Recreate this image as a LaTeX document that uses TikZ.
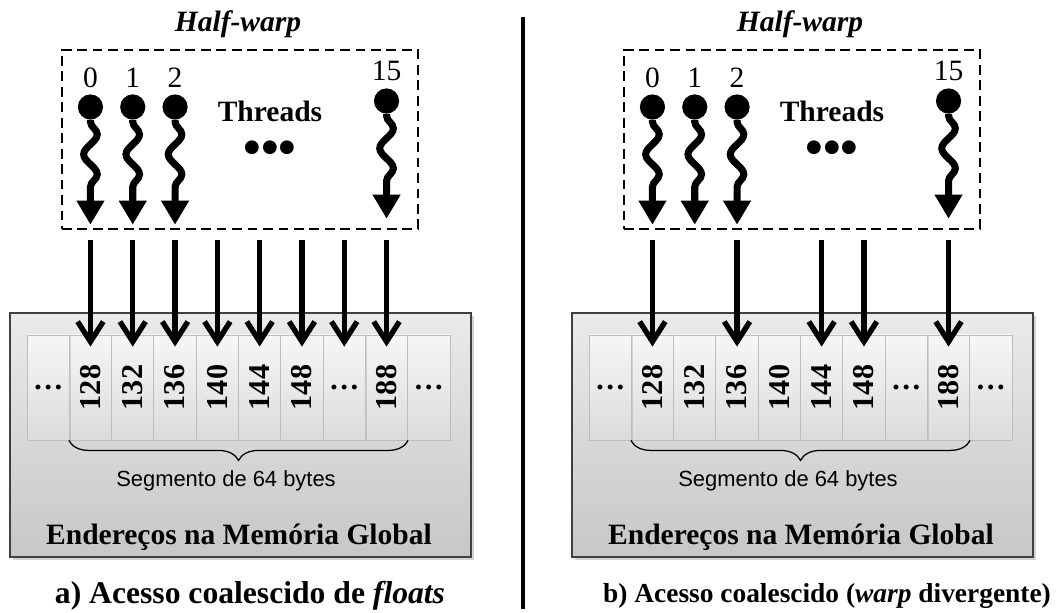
\documentclass[tikz,border=0pt]{standalone}
\usepackage{fontspec}
\setmainfont{Liberation Serif}
\setsansfont{Liberation Sans}
\usepackage{graphicx}
\usetikzlibrary{positioning,arrows.meta,calc,shadows,
                decorations.pathmorphing,decorations.pathreplacing}
\definecolor{boxtop}{gray}{0.92}
\definecolor{boxbot}{gray}{0.78}
\definecolor{celltop}{gray}{0.965}
\definecolor{cellbot}{gray}{0.86}
\definecolor{celledge}{gray}{0.74}
\tikzset{
  big/.style={font=\fontsize{21}{24}\selectfont},
  sans/.style={font=\sffamily\fontsize{15.6}{18}\selectfont},
  memory/.style={rectangle,draw=black!75,line width=0.8pt,
                 top color=boxtop,bottom color=boxbot,
                 minimum width=11.525cm,minimum height=6.1cm,
                 drop shadow={opacity=0.35,shadow xshift=2pt,shadow yshift=-2pt}},
  cell/.style={rectangle,draw=celledge,line width=0.6pt,
               top color=celltop,bottom color=cellbot,
               minimum width=1.0575cm,minimum height=2.625cm,inner sep=0pt,
               font=\fontsize{21.5}{24}\selectfont\bfseries,
               drop shadow={opacity=0.25,shadow xshift=1pt,shadow yshift=-1pt}},
  halfwarp/.style={rectangle,draw,dash pattern=on 7pt off 4pt,line width=1.8pt,
                   minimum width=8.9cm,minimum height=4.475cm},
  ball/.style={circle,fill=black,minimum size=6.3mm,inner sep=0pt},
  thread/.style={line width=5pt,decorate,
                 decoration={snake,amplitude=1.7mm,segment length=10mm,
                             pre length=0.5mm,post length=6.5mm},
                 -{Triangle[length=6mm,width=6.6mm]}},
  access/.style={line width=3.8pt,-{Straight Barb[length=5mm,width=6.4mm]}},
  segbrace/.style={decorate,decoration={brace,mirror,amplitude=5mm},line width=0.9pt},
}

\begin{document}
\begin{tikzpicture}
\useasboundingbox (0,0) rectangle (26.575,15.325);
% a) acesso coalescido
\begin{scope}
\node[memory] (amem) at (6.0125,4.45) {};
\foreach \i/\v in {2/128,3/132,4/136,5/140,6/144,7/148,9/188}
  \node[cell] (a\i) at ({0.675+(\i-0.5)*1.0575},5.6375) {\rotatebox{90}{\v}};
\foreach \i in {1,8,10}
  \node[cell] (a\i) at ({0.675+(\i-0.5)*1.0575},5.6375) {\dots};
\draw[segbrace] (a2.south west) -- (a9.south east);
\node[sans] (aseg) at (5.65,3.3) {Segmento de 64 bytes};
\node[big] (aglob) at (5.975,1.9) {\textbf{Endereços na Memória Global}};
\node[halfwarp] (ahw) at (6.0,11.8375) {};
\node[big] (atitle) at (5.95,14.72) {\textbf{\textit{Half-warp}}};
\foreach \t/\i/\y in {0/2/12.65,1/3/12.65,2/4/12.65,15/9/12.8} {
  \node[ball] (at\t) at ({0.675+(\i-0.5)*1.0575},\y) {};
  \node[big] (an\t) at ([yshift=7.4mm]at\t) {\t};
  \draw[thread] (at\t.south) -- ++(0,-2.62);
}
\node[big] (athr) at (6.75,12.55) {\textbf{Threads}};
\node[font=\fontsize{36}{36}\selectfont\bfseries] (adots) at (6.75,11.5) {•••};
\foreach \i in {2,...,9}
  \draw[access] ($(a\i.north |- ahw.south)+(0,-0.25)$) -- ([yshift=-3mm]a\i.north);
\node[font=\fontsize{22.5}{26}\selectfont] (acap) at (6.25,0.425)
  {\textbf{a) Acesso coalescido de \textit{floats}}};
\end{scope}
% divisor
\draw[line width=2.5pt] (13.075,14.9) -- (13.075,0.1);
% b) warp divergente
\begin{scope}[xshift=14.05cm]
\node[memory] (bmem) at (6.0125,4.45) {};
\foreach \i/\v in {2/128,3/132,4/136,5/140,6/144,7/148,9/188}
  \node[cell] (b\i) at ({0.675+(\i-0.5)*1.0575},5.6375) {\rotatebox{90}{\v}};
\foreach \i in {1,8,10}
  \node[cell] (b\i) at ({0.675+(\i-0.5)*1.0575},5.6375) {\dots};
\draw[segbrace] (b2.south west) -- (b9.south east);
\node[sans] (bseg) at (5.65,3.3) {Segmento de 64 bytes};
\node[big] (bglob) at (5.975,1.9) {\textbf{Endereços na Memória Global}};
\node[halfwarp] (bhw) at (6.0,11.8375) {};
\node[big] (btitle) at (5.95,14.72) {\textbf{\textit{Half-warp}}};
\foreach \t/\i/\y in {0/2/12.65,1/3/12.65,2/4/12.65,15/9/12.8} {
  \node[ball] (bt\t) at ({0.675+(\i-0.5)*1.0575},\y) {};
  \node[big] (bn\t) at ([yshift=7.4mm]bt\t) {\t};
  \draw[thread] (bt\t.south) -- ++(0,-2.62);
}
\node[big] (bthr) at (6.75,12.55) {\textbf{Threads}};
\node[font=\fontsize{36}{36}\selectfont\bfseries] (bdots) at (6.75,11.5) {•••};
\foreach \i in {2,4,6,7,9}
  \draw[access] ($(b\i.north |- bhw.south)+(0,-0.25)$) -- ([yshift=-3mm]b\i.north);
\node[font=\fontsize{19.5}{24}\selectfont] (bcap) at (6.625,0.425)
  {\textbf{b) Acesso coalescido (\textit{warp} divergente)}};
\end{scope}
\end{tikzpicture}
\end{document}
